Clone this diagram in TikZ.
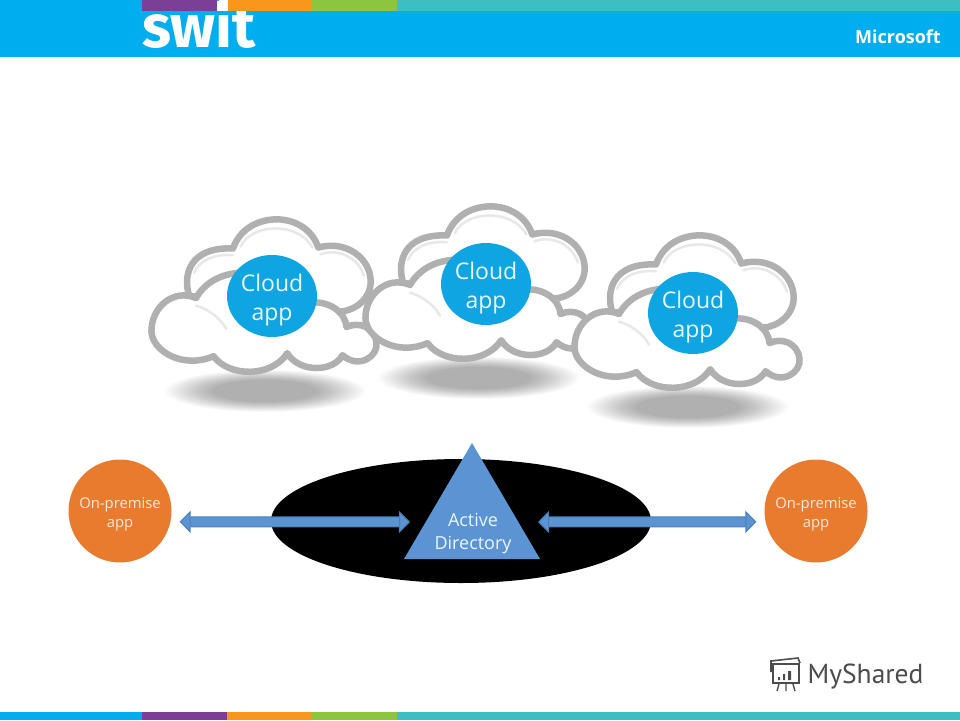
\documentclass[tikz,border=0pt]{standalone}
\usepackage{fontspec}
\setmainfont{Open Sans}
\newfontfamily\logofont{Fira Sans}
\newfontfamily\sharedfont{PT Sans}
\usetikzlibrary{shapes, arrows.meta, calc}
\definecolor{switblue}{HTML}{00AEEF}
\definecolor{switpurple}{HTML}{7B3F98}
\definecolor{switorange}{HTML}{F7981D}
\definecolor{switgreen}{HTML}{8CC63F}
\definecolor{switteal}{HTML}{3CBFBE}
\definecolor{cloudgrey}{HTML}{B0B0B0}
\definecolor{cloudblue}{HTML}{0FA5E3}
\definecolor{apporange}{HTML}{E97B2E}
\definecolor{adblue}{HTML}{5B93D3}
\definecolor{adedge}{HTML}{4A7FB5}
\definecolor{lighttext}{HTML}{E8F7FD}
\definecolor{warmtext}{HTML}{FBE9DC}
\tikzset{
	cloudline/.style={draw=cloudgrey, line width=6.5pt, fill=white, line join=round},
	cloudinner/.style={draw=black!9, line width=2.5pt, line cap=round},
	cloudapp/.style={ellipse, fill=cloudblue, text=lighttext, minimum width=90pt, minimum height=82pt, inner sep=-14pt, align=center, font=\fontsize{23}{29}\selectfont},
	premapp/.style={circle, fill=apporange, text=warmtext, minimum size=103pt, inner sep=-14pt, align=center, font=\fontsize{14.8}{19}\selectfont},
	adarrow/.style={draw=adedge, line width=1pt, double=adblue, double distance=9pt, {Triangle[width=22pt, length=11pt, fill=adblue, line width=1pt]}-{Triangle[width=22pt, length=11pt, fill=adblue, line width=1pt]}},
}
\newcommand{\cloudshape}[2]{
	\begin{scope}[shift={(#1,#2)}]
		\foreach \r in {1,.97,...,.52}
			\fill[black, opacity=.02] (265,391) ellipse [x radius=\r*100pt, y radius=\r*21pt];
		\begin{scope}[shift={(263,296)}, scale=.97, shift={(-263,-296)}]
			\draw[cloudline] (187,296) .. controls (180,275) and (187,245) .. (232,247) .. controls (240,225) and (260,217) .. (277,217) .. controls (297,217) and (314,228) .. (320,246) .. controls (350,238) and (374,258) .. (374,281) .. controls (374,298) and (360,310) .. (344,312) -- cycle;
			\draw[cloudinner] (192,272) .. controls (197,260) and (212,252) .. (232,254);
			\draw[cloudinner] (240,245) .. controls (250,222) and (298,218) .. (314,246);
			\draw[cloudinner] (322,253) .. controls (342,246) and (362,258) .. (367,275);
			\draw[cloudline] (194,298) .. controls (170,288) and (148,308) .. (148,332) .. controls (148,352) and (180,372) .. (212,358) .. controls (228,380) and (272,380) .. (288,355) .. controls (300,375) and (335,375) .. (345,357) .. controls (362,372) and (382,358) .. (380,344) .. controls (378,328) and (362,322) .. (349,328) .. controls (348,312) and (330,300) .. (310,303) -- (240,272) .. controls (220,273) and (203,282) .. (194,298) -- cycle;
			\draw[cloudinner] (194,306) .. controls (208,310) and (220,320) .. (225,330);
		\end{scope}
	\end{scope}
}

\begin{document}
\begin{tikzpicture}[x=1pt, y=-1pt]
	\useasboundingbox (0,0) rectangle (960,720);
	\fill[white] (0,0) rectangle (960,720);
	% header
	\fill[switblue] (0,0) rectangle (960,57);
	\node[text=white, font=\logofont\bfseries\fontsize{60}{60}\selectfont, anchor=base] (swit) at (199,47) {swit};
	\fill[switpurple] (142,0) rectangle (217,11);
	\fill[white] (217,1) rectangle (228,11);
	\fill[switorange] (228,0) rectangle (312,11);
	\fill[switgreen] (312,0) rectangle (397,11);
	\fill[switteal] (397,0) rectangle (960,11);
	\node[text=white, font=\bfseries\fontsize{18}{18}\selectfont] (microsoft) at (898,37) {Microsoft};
	% footer
	\fill[switblue] (0,712) rectangle (142,720);
	\fill[switpurple] (142,712) rectangle (227,720);
	\fill[switorange] (227,712) rectangle (312,720);
	\fill[switgreen] (312,712) rectangle (397,720);
	\fill[switteal] (397,712) rectangle (960,720);
	% clouds
	\cloudshape{0}{0}
	\cloudshape{214}{-13}
	\cloudshape{423}{16}
	\node[cloudapp] (cloudA) at (272,296) {\rule{0pt}{26pt}Cloud\\app};
	\node[cloudapp] (cloudB) at (486,284) {\rule{0pt}{26pt}Cloud\\app};
	\node[cloudapp] (cloudC) at (693,313) {\rule{0pt}{26pt}Cloud\\app};
	% directory
	\fill[black] (461,521) ellipse [x radius=190pt, y radius=62pt];
	\node[premapp] (leftapp) at (120,511) {\rule{0pt}{18pt}On-premise\\app};
	\node[premapp] (rightapp) at (816,511) {\rule{0pt}{18pt}On-premise\\app};
	\draw[fill=adblue, draw=none] (472,443) to (404,559) to (540,559) -- cycle;
	\node[text=lighttext, align=center, font=\fontsize{18}{23}\selectfont] (ad) at (473,534) {Active\\Directory};
	\coordinate (adwest) at (410,522);
	\coordinate (adeast) at (538,522);
	\draw[adarrow, shorten <=9pt] (leftapp.-12) to (adwest);
	\draw[adarrow, shorten >=9pt] (adeast) to (rightapp.192);
	% watermark
	\node[text=black!70, font=\sharedfont\fontsize{27.5}{27.5}\selectfont, anchor=west] (shared) at (804,677) {MyShared};
	\draw[black!70, line width=1.6pt] (773,664) rectangle (799,683);
	\draw[black!70, line width=1.6pt] (771,672) to (771,661) to (798,658) to (800,663);
	\fill[black!70] (778,677) rectangle (780,680) (783,674) rectangle (785,680) (788,671) rectangle (791,680);
	\draw[black!70, line width=1.4pt] (779,684) to (777,691) (786,684) to (786,691) (793,684) to (795,691);
\end{tikzpicture}
\end{document}
